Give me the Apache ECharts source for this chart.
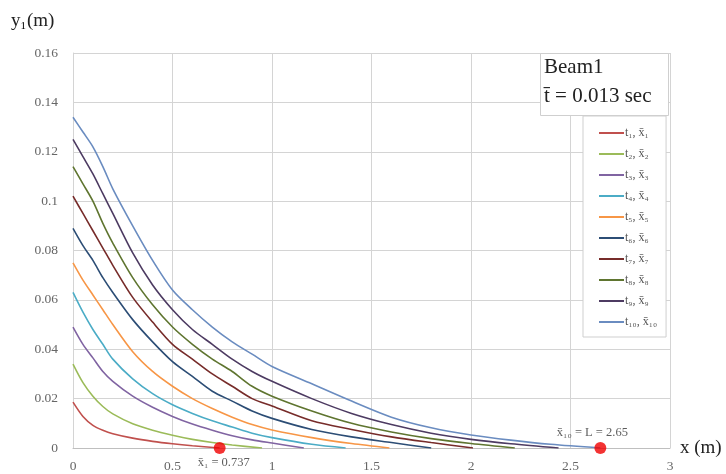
<!DOCTYPE html>
<html><head><meta charset="utf-8">
<script src="https://cdn.jsdelivr.net/npm/echarts@6/dist/echarts.min.js"></script>
<style>html,body{margin:0;padding:0;background:#fff}#c{width:726px;height:474px}</style>
</head><body><div id="c"></div>
<script>
// x positions shared by all curves (m)
const xGrid = [0,0.05,0.1,0.15,0.2,0.3,0.4,0.5,0.6,0.7,0.8,0.9,1.0,1.2,1.4,1.6,1.8,2.0,2.2,2.4];
// end point of each curve (x-bar_i) where y1 = 0
const xEnd = [0.737,0.95,1.16,1.37,1.59,1.80,2.01,2.22,2.44,2.65];
// deflection values y1 (m) on xGrid
const y_t1  = [0.0186,0.0128,0.0092,0.0072,0.0058,0.0040,0.0027,0.0017,0.0009];
const y_t2  = [0.034,0.0265,0.021,0.0168,0.0138,0.0098,0.0072,0.0052,0.0035,0.0022,0.0012];
const y_t3  = [0.049,0.042,0.0365,0.031,0.027,0.021,0.0165,0.0128,0.0097,0.0072,0.005,0.0033,0.002];
const y_t4  = [0.063,0.055,0.048,0.042,0.036,0.028,0.022,0.0175,0.014,0.011,0.0085,0.006,0.0042,0.0015];
const y_t5  = [0.075,0.068,0.062,0.056,0.050,0.039,0.031,0.025,0.020,0.016,0.0125,0.0095,0.0073,0.0042,0.0018];
const y_t6  = [0.089,0.082,0.076,0.069,0.063,0.052,0.043,0.035,0.029,0.023,0.019,0.015,0.012,0.0075,0.0045,0.0022];
const y_t7  = [0.102,0.095,0.088,0.081,0.074,0.061,0.051,0.042,0.036,0.030,0.025,0.020,0.017,0.011,0.0075,0.0045,0.0022];
const y_t8  = [0.114,0.107,0.100,0.091,0.083,0.069,0.058,0.049,0.042,0.036,0.031,0.025,0.021,0.015,0.010,0.0065,0.0038,0.0018];
const y_t9  = [0.125,0.118,0.111,0.103,0.095,0.079,0.066,0.056,0.048,0.042,0.036,0.031,0.027,0.020,0.014,0.0095,0.006,0.0035,0.0017];
const y_t10 = [0.134,0.128,0.122,0.114,0.105,0.090,0.076,0.064,0.056,0.049,0.043,0.038,0.033,0.026,0.019,0.0125,0.0082,0.0053,0.0032,0.0015];
const seriesNames = ['t\u2081, x\u0304\u2081','t\u2082, x\u0304\u2082','t\u2083, x\u0304\u2083','t\u2084, x\u0304\u2084','t\u2085, x\u0304\u2085','t\u2086, x\u0304\u2086','t\u2087, x\u0304\u2087','t\u2088, x\u0304\u2088','t\u2089, x\u0304\u2089','t\u2081\u2080, x\u0304\u2081\u2080'];
const colors = ['#C0504D','#9BBB59','#8064A2','#4BACC6','#F79646','#2C4D75','#772C2A','#5F7530','#4D3B62','#6A8CC0'];
// marked points
const markX = [0.737, 2.65];
const markY = [0, 0];
const markLabels = ['x\u0304\u2081 = 0.737', 'x\u0304\u2081\u2080 = L = 2.65'];

const allY = [y_t1,y_t2,y_t3,y_t4,y_t5,y_t6,y_t7,y_t8,y_t9,y_t10];
const serif = '"Liberation Serif", "DejaVu Serif", serif';

const series = allY.map((ys, k) => ({
  name: seriesNames[k],
  type: 'line',
  smooth: 0.3,
  showSymbol: false,
  symbol: 'none',
  lineStyle: { width: 1.6, color: colors[k] },
  itemStyle: { color: colors[k] },
  data: ys.map((y, i) => [xGrid[i], y]).concat([[xEnd[k], 0]]),
  z: 2
}));
series.push({
  type: 'scatter',
  symbolSize: 12,
  itemStyle: { color: '#F00000' },
  data: markX.map((x, i) => ({
    value: [x, markY[i]],
    label: {
      show: true,
      formatter: markLabels[i],
      position: i === 0 ? 'bottom' : 'top',
      offset: i === 0 ? [4, -3] : [-8, 2],
      fontFamily: serif, fontSize: 12.5, color: '#333'
    }
  })),
  z: 5
});

const chart = echarts.init(document.getElementById('c'));
chart.setOption({
  animation: false,
  grid: { left: 73, right: 56, top: 53, bottom: 26 },
  xAxis: {
    type: 'value', min: 0, max: 3, interval: 0.5,
    name: 'x (m)', nameLocation: 'end', nameGap: 10,
    nameTextStyle: { fontFamily: serif, fontSize: 19, color: '#222', verticalAlign: 'middle' },
    axisLine: { show: true, lineStyle: { color: '#bfbfbf' } },
    axisTick: { show: false },
    axisLabel: { margin: 11, fontFamily: serif, fontSize: 13.5, color: '#666' },
    splitLine: { show: true, lineStyle: { color: '#d4d4d4' } }
  },
  yAxis: {
    type: 'value', min: 0, max: 0.16, interval: 0.02,
    axisLine: { show: true, lineStyle: { color: '#d4d4d4' } },
    axisTick: { show: false },
    axisLabel: { margin: 15, fontFamily: serif, fontSize: 13.5, color: '#666' },
    splitLine: { show: true, lineStyle: { color: '#d4d4d4' } }
  },
  legend: {
    orient: 'vertical',
    left: 583, top: 116,
    padding: [10, 9, 8, 16],
    borderColor: '#cfcfcf', borderWidth: 1,
    backgroundColor: '#fff',
    itemWidth: 25, itemHeight: 2, itemGap: 7,
    icon: 'rect',
    textStyle: { fontFamily: serif, fontSize: 12, color: '#555', lineHeight: 14, padding: [0,0,0,-4] },
    data: seriesNames
  },
  graphic: [
    { type: 'rect', left: 540, top: 53, shape: { width: 128, height: 62 },
      style: { fill: '#fff', stroke: '#cfcfcf', lineWidth: 1 }, z: 10 },
    { type: 'text', left: 544, top: 57, z: 11,
      style: { text: 'Beam1', font: '21px ' + serif, fill: '#222' } },
    { type: 'text', left: 544, top: 86, z: 11,
      style: { text: 't\u0304 = 0.013 sec', font: '21px ' + serif, fill: '#222' } },
    { type: 'text', left: 11, top: 12, z: 11,
      style: { text: '{a|y}{s|1}{a|(m)}', rich: {
        a: { fontFamily: serif, fontSize: 19, fill: '#222', color: '#222' },
        s: { fontFamily: serif, fontSize: 11, color: '#222', padding: [10, 1, 0, 0] } } } }
  ],
  series: series
});
</script></body></html>
